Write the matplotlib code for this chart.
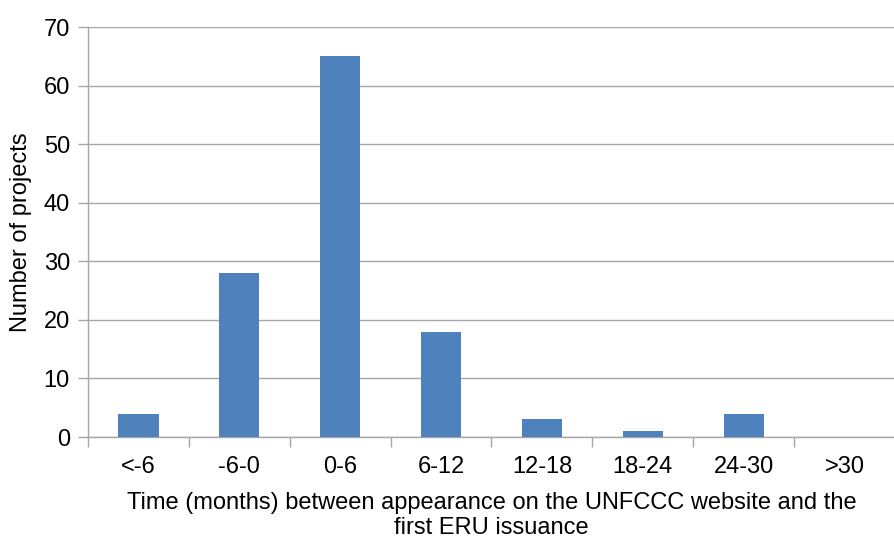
import numpy as np
import matplotlib
matplotlib.use('Agg')
import matplotlib.pyplot as plt

categories = ['<-6', '-6-0', '0-6', '6-12', '12-18', '18-24', '24-30', '>30']
projects = [4, 28, 65, 18, 3, 1, 4, 0]

plt.rcParams['font.family'] = ['Liberation Sans', 'DejaVu Sans']

fig = plt.figure(figsize=(8.95, 5.38), dpi=100)
ax = fig.add_axes([88/895, 101/538, 1 - 88/895, (437-27)/538])

x = np.arange(len(categories))
ax.bar(x, projects, width=0.4, color='#4f81bd', zorder=3)

grid_col = '#a6a6a6'
ax.set_xlim(-0.5, len(categories) - 0.5)
ax.set_ylim(0, 70)
ax.set_yticks(np.arange(0, 71, 10))
ax.yaxis.grid(True, color=grid_col, linewidth=1, zorder=0)

# x ticks between categories, labels centred
ax.set_xticks(np.arange(-0.5, len(categories)), minor=False)
ax.set_xticklabels([])
ax.set_xticks(x, minor=True)
ax.set_xticklabels(categories, minor=True, fontsize=17)
ax.tick_params(axis='x', which='major', length=7, color=grid_col, width=1)
ax.tick_params(axis='x', which='minor', length=0, pad=14)
ax.tick_params(axis='y', length=7, color=grid_col, width=1, labelsize=17, pad=6)

for s in ['top', 'right']:
    ax.spines[s].set_visible(False)
for s in ['left', 'bottom']:
    ax.spines[s].set_color(grid_col)
    ax.spines[s].set_linewidth(1)

ax.set_ylabel('Number of projects', fontsize=17, labelpad=8)
ax.set_xlabel('Time (months) between appearance on the UNFCCC website and the\nfirst ERU issuance',
              fontsize=17, labelpad=10, linespacing=1.15)

fig.savefig('out.png', dpi=100)
